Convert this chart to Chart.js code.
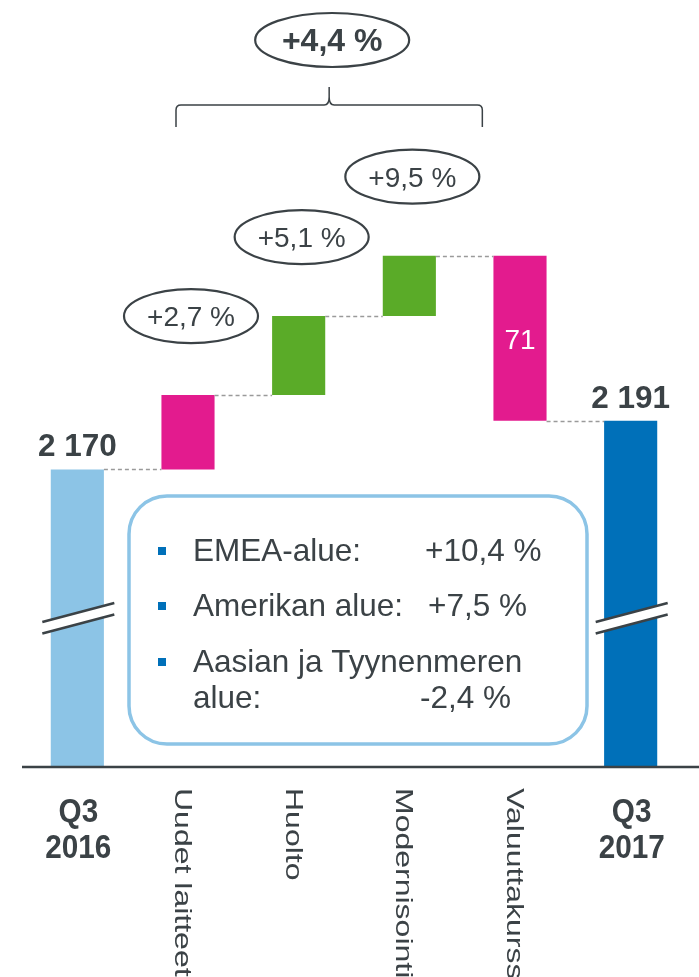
<!DOCTYPE html>
<html>
<head>
<meta charset="utf-8">
<script src="https://cdn.jsdelivr.net/npm/chart.js@4.4.1/dist/chart.umd.min.js"></script>
<style>
  html, body { margin: 0; padding: 0; background: #fff; }
  canvas { display: block; }
</style>
</head>
<body>
<canvas id="waterfall" width="699" height="977"></canvas>
<script>
// Liikevaihdon kehitys Q3 2016 -> Q3 2017 (vesiputous)
const categories = [['Q3', '2016'], 'Uudet laitteet', 'Huolto', 'Modernisointi', 'Valuuttakurssi', ['Q3', '2017']];
const values     = [2170, 32, 34, 26, -71, 2191];
const isTotal    = [true, false, false, false, false, true];
const barColors  = ['#8cc4e6', '#e31b8e', '#5aab28', '#5aab28', '#e31b8e', '#0070b9'];
const growthLabels = [null, '+2,7 %', '+5,1 %', '+9,5 %', null, null];
const totalGrowth  = '+4,4 %';
const regionNames  = [['EMEA-alue:'], ['Amerikan alue:'], ['Aasian ja Tyynenmeren', 'alue:']];
const regionGrowth = ['+10,4 %', '+7,5 %', '-2,4 %'];

const axisMin = 2042;
const axisMax = 2372;

// kelluvat palkit: [alku, loppu]
const ends = [];
const bars = [];
let running = 0;
values.forEach((v, i) => {
    if (isTotal[i]) {
        bars.push([axisMin, v]);
        running = v;
    } else {
        bars.push([running, running + v]);
        running += v;
    }
    ends.push(running);
});

const ink  = '#3b4246';
const font = "'Liberation Sans', Arial, sans-serif";
const fmt  = (v) => String(Math.abs(v)).replace(/\B(?=(\d{3})+(?!\d))/g, ' ');

const decor = {
    id: 'decor',
    afterDatasetsDraw(chart) {
        const { ctx, chartArea } = chart;
        const y = chart.scales.y;
        const meta = chart.getDatasetMeta(0);
        const els = meta.data;
        const bottom = chartArea.bottom;

        ctx.save();

        // katkoviivat palkkien välillä
        ctx.strokeStyle = '#9a9a9a';
        ctx.lineWidth = 1.5;
        ctx.setLineDash([4, 3]);
        for (let i = 0; i < els.length - 1; i++) {
            const a = els[i], b = els[i + 1];
            const lvl = Math.round(y.getPixelForValue(ends[i])) + 0.5;
            ctx.beginPath();
            ctx.moveTo(a.x + a.width / 2, lvl);
            ctx.lineTo(b.x - b.width / 2, lvl);
            ctx.stroke();
        }
        ctx.setLineDash([]);

        // akselin katkos
        els.forEach((el, i) => {
            if (!isTotal[i]) return;
            const x1 = el.x - 35, x2 = el.x + 37;
            const ya = bottom - 145, yb = bottom - 164, gap = 11.5;
            const slope = (yb - ya) / (x2 - x1);
            const l = el.x - el.width / 2 - 1, r = el.x + el.width / 2 + 1;
            ctx.fillStyle = '#fff';
            ctx.beginPath();
            ctx.moveTo(l, ya + (l - x1) * slope);
            ctx.lineTo(r, ya + (r - x1) * slope);
            ctx.lineTo(r, ya + (r - x1) * slope + gap);
            ctx.lineTo(l, ya + (l - x1) * slope + gap);
            ctx.closePath();
            ctx.fill();
            ctx.strokeStyle = ink;
            ctx.lineWidth = 2.5;
            [0, gap].forEach((d) => {
                ctx.beginPath();
                ctx.moveTo(x1, ya + d);
                ctx.lineTo(x2, yb + d);
                ctx.stroke();
            });
        });

        // vaaka-akseli
        ctx.strokeStyle = ink;
        ctx.lineWidth = 2.5;
        ctx.beginPath();
        ctx.moveTo(chartArea.left, bottom);
        ctx.lineTo(chart.width, bottom);
        ctx.stroke();

        // arvot
        ctx.textAlign = 'center';
        ctx.textBaseline = 'alphabetic';
        els.forEach((el, i) => {
            const top = Math.min(el.y, el.base);
            if (isTotal[i]) {
                ctx.fillStyle = ink;
                ctx.font = 'bold 31.5px ' + font;
                ctx.fillText(fmt(values[i]), el.x, top - 13);
            } else if (values[i] < 0) {
                ctx.fillStyle = '#fff';
                ctx.font = '28px ' + font;
                ctx.fillText(fmt(values[i]), el.x, (el.y + el.base) / 2 + 11);
            }
        });

        // kategoriat
        els.forEach((el, i) => {
            const lab = categories[i];
            ctx.fillStyle = ink;
            if (Array.isArray(lab)) {
                ctx.font = 'bold 33px ' + font;
                lab.forEach((line, k) => {
                    ctx.save();
                    ctx.translate(el.x + 1, bottom + 55 + k * 36);
                    ctx.scale(0.9, 1);
                    ctx.fillText(line, 0, 0);
                    ctx.restore();
                });
            } else {
                ctx.save();
                ctx.translate(el.x - 13, bottom + 21);
                ctx.rotate(Math.PI / 2);
                ctx.scale(1, 0.74);
                ctx.textAlign = 'left';
                ctx.font = '32px ' + font;
                ctx.fillText(lab, 0, 0);
                ctx.restore();
            }
        });

        // kasvuprosentit soikioissa
        const ellipse = (cx, cy, rx, ry) => {
            ctx.beginPath();
            ctx.ellipse(cx, cy, rx, ry, 0, 0, Math.PI * 2);
            ctx.strokeStyle = ink;
            ctx.lineWidth = 2.2;
            ctx.stroke();
        };
        els.forEach((el, i) => {
            if (!growthLabels[i]) return;
            const cx = el.x + 3, cy = Math.min(el.y, el.base) - 79;
            ellipse(cx, cy, 67, 27);
            ctx.fillStyle = ink;
            ctx.font = '28px ' + font;
            ctx.fillText(growthLabels[i], cx, cy + 10);
        });

        // aaltosulje
        const bl = els[1].x - 12, br = els[3].x + 73, bm = (bl + br) / 2;
        const by = chartArea.top + 105, r = 5;
        ctx.strokeStyle = ink;
        ctx.lineWidth = 1.5;
        ctx.beginPath();
        ctx.moveTo(bl, by + 22);
        ctx.lineTo(bl, by + r);
        ctx.quadraticCurveTo(bl, by, bl + r, by);
        ctx.lineTo(bm - r, by);
        ctx.quadraticCurveTo(bm, by, bm, by - r - 3);
        ctx.lineTo(bm, by - 18);
        ctx.moveTo(bm, by - r - 3);
        ctx.quadraticCurveTo(bm, by, bm + r, by);
        ctx.lineTo(br - r, by);
        ctx.quadraticCurveTo(br, by, br, by + r);
        ctx.lineTo(br, by + 22);
        ctx.stroke();

        ellipse(bm + 3, chartArea.top + 40, 77, 27);
        ctx.fillStyle = ink;
        ctx.font = 'bold 32px ' + font;
        ctx.fillText(totalGrowth, bm + 3, chartArea.top + 51);

        // alueet-laatikko
        const bx = 129, byy = 496, bw = 458, bh = 248, rad = 38;
        ctx.strokeStyle = '#8cc4e6';
        ctx.lineWidth = 3.5;
        ctx.beginPath();
        ctx.roundRect(bx, byy, bw, bh, rad);
        ctx.stroke();

        const baselines = [[561], [616], [672, 708]];
        const valueX = [425, 428, 420];
        ctx.textAlign = 'left';
        ctx.font = '31.5px ' + font;
        regionNames.forEach((lines, i) => {
            ctx.fillStyle = '#0070b9';
            ctx.fillRect(158, baselines[i][0] - 14, 8, 8);
            ctx.fillStyle = ink;
            lines.forEach((line, k) => ctx.fillText(line, 193, baselines[i][k]));
            const last = baselines[i][lines.length - 1];
            ctx.fillText(regionGrowth[i], valueX[i], last);
        });

        ctx.restore();
    },
};

new Chart(document.getElementById('waterfall'), {
    type: 'bar',
    data: {
        labels: categories,
        datasets: [{
            data: bars,
            backgroundColor: barColors,
            borderWidth: 0,
            barPercentage: 0.48,
            categoryPercentage: 1,
        }],
    },
    options: {
        responsive: false,
        animation: false,
        devicePixelRatio: 1,
        layout: { padding: { left: 22, right: 13, top: 0, bottom: 210 } },
        plugins: {
            legend: { display: false },
            tooltip: { enabled: false },
        },
        scales: {
            x: { display: false },
            y: { display: false, min: axisMin, max: axisMax },
        },
    },
    plugins: [decor],
});
</script>
</body>
</html>
